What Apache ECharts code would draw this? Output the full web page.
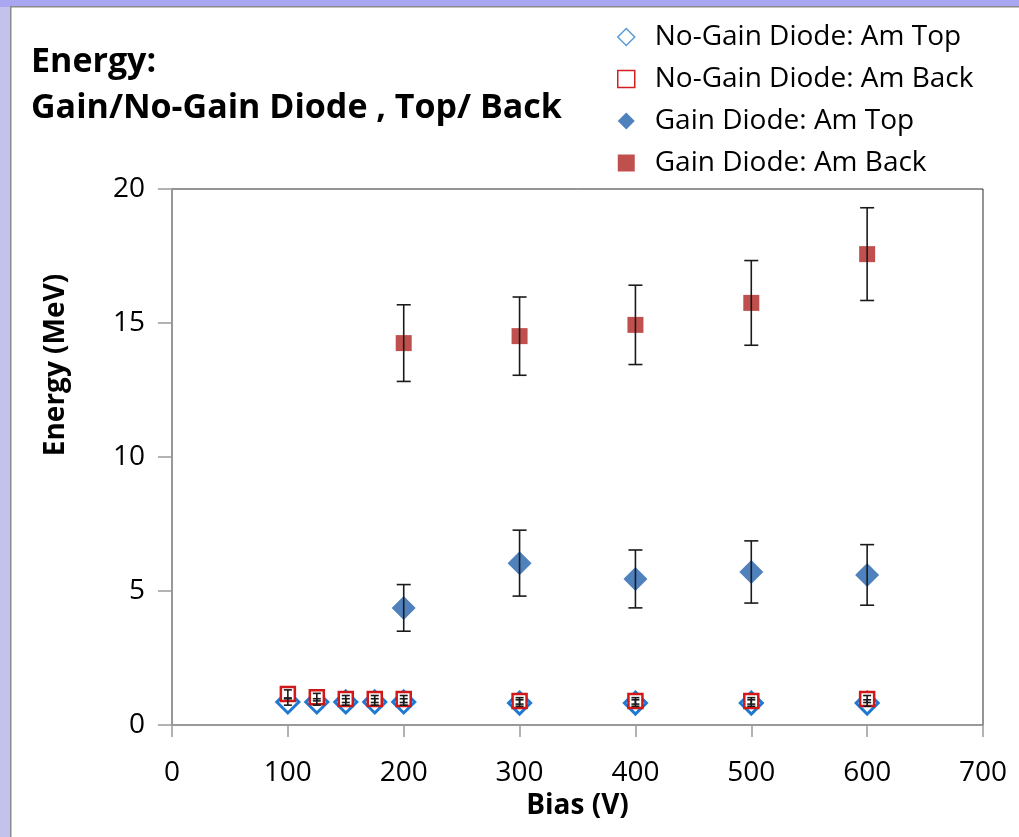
<!DOCTYPE html>
<html>
<head>
<meta charset="utf-8">
<script src="https://cdn.jsdelivr.net/npm/echarts@6/dist/echarts.min.js"></script>
<style>
  html, body { margin: 0; padding: 0; background: #C3C2EC; }
  #chart { width: 1019px; height: 837px; }
</style>
</head>
<body>
<div id="chart"></div>
<script>
// Bias voltages (V)
const biasNoGain = [100, 125, 150, 175, 200, 300, 400, 500, 600];
const biasGain = [200, 300, 400, 500, 600];

// Measured energies (MeV) and their uncertainties
const noGainTop = [0.86, 0.86, 0.86, 0.86, 0.86, 0.82, 0.82, 0.82, 0.82];
const noGainTopErr = [0.12, 0.12, 0.12, 0.12, 0.12, 0.12, 0.12, 0.12, 0.12];
const noGainBack = [1.16, 1.04, 0.97, 0.97, 0.97, 0.9, 0.9, 0.9, 0.97];
const noGainBackErr = [0.15, 0.14, 0.13, 0.13, 0.13, 0.12, 0.12, 0.12, 0.13];
const gainTop = [4.37, 6.04, 5.45, 5.71, 5.6];
const gainTopErr = [0.87, 1.23, 1.08, 1.16, 1.13];
const gainBack = [14.25, 14.51, 14.93, 15.75, 17.57];
const gainBackErr = [1.43, 1.46, 1.48, 1.58, 1.73];

const xTicks = [0, 100, 200, 300, 400, 500, 600, 700];
const yTicks = [0, 5, 10, 15, 20];

const FONT = '"Open Sans", "Noto Sans", sans-serif';

function pairs(xs, ys) { return xs.map((x, i) => [x, ys[i]]); }
function errRows(xs, ys, es) { return xs.map((x, i) => [x, ys[i] - es[i], ys[i] + es[i]]); }

// vertical error bar with short caps at both ends
function errorSeries(rows, cap) {
  return {
    type: 'custom',
    silent: true,
    z: 5,
    data: rows,
    encode: { x: 0, y: [1, 2] },
    renderItem: function (params, api) {
      const x = api.value(0);
      const lo = api.coord([x, api.value(1)]);
      const hi = api.coord([x, api.value(2)]);
      const st = { stroke: '#1a1a1a', lineWidth: 1.6 };
      return {
        type: 'group',
        children: [
          { type: 'line', shape: { x1: lo[0], y1: lo[1], x2: hi[0], y2: hi[1] }, style: st },
          { type: 'line', shape: { x1: lo[0] - cap, y1: lo[1], x2: lo[0] + cap, y2: lo[1] }, style: st },
          { type: 'line', shape: { x1: hi[0] - cap, y1: hi[1], x2: hi[0] + cap, y2: hi[1] }, style: st }
        ]
      };
    }
  };
}

const chart = echarts.init(document.getElementById('chart'), null, { renderer: 'canvas' });

chart.setOption({
  animation: false,
  backgroundColor: '#C3C2EC',
  graphic: [
    { type: 'rect', left: 0, top: 0, shape: { width: 1019, height: 7 }, style: { fill: '#A9A7F1' }, z: -10 },
    { type: 'rect', left: 10, top: 6, shape: { width: 1015, height: 840 }, style: { fill: '#ffffff', stroke: '#8a8a8a', lineWidth: 1.5 }, z: -9 },
    { type: 'text', left: 31, top: 45, style: { text: 'Energy:', font: 'bold 34px ' + FONT, fill: '#000' } },
    { type: 'text', left: 31, top: 91, style: { text: 'Gain/No-Gain Diode , Top/ Back', font: 'bold 34px ' + FONT, fill: '#000' } },
    {
      type: 'text', x: 56, y: 365, rotation: Math.PI / 2,
      style: { text: 'Energy (MeV)', font: 'bold 28px ' + FONT, fill: '#000', align: 'center', verticalAlign: 'middle' }
    }
  ],
  grid: {
    left: 172, right: 36, top: 189, bottom: 112,
    show: true, borderColor: '#2a2a2a', borderWidth: 1, backgroundColor: 'transparent'
  },
  legend: {
    orient: 'vertical',
    left: 612, top: 17,
    itemGap: 12,
    itemWidth: 17, itemHeight: 17,
    textStyle: { fontFamily: FONT, fontSize: 28, lineHeight: 30, color: '#000', padding: [0, 0, 0, 15] },
    data: [
      { name: 'No-Gain Diode: Am Top', icon: 'diamond', itemStyle: { color: '#fff', borderColor: '#5B9BD5', borderWidth: 1.5 } },
      { name: 'No-Gain Diode: Am Back', icon: 'rect', itemStyle: { color: '#fff', borderColor: '#D42020', borderWidth: 1.5 } },
      { name: 'Gain Diode: Am Top', icon: 'diamond' },
      { name: 'Gain Diode: Am Back', icon: 'rect' }
    ]
  },
  xAxis: {
    type: 'value', min: 0, max: 700, interval: 100,
    name: 'Bias (V)', nameLocation: 'middle', nameGap: 63,
    nameTextStyle: { fontFamily: FONT, fontSize: 28, fontWeight: 'bold', color: '#000' },
    axisLine: { show: true, onZero: false, lineStyle: { color: '#9a9a9a', width: 1.5 } },
    axisTick: { show: true, length: 12, lineStyle: { color: '#9a9a9a', width: 1.5 } },
    axisLabel: {
      margin: 34, fontFamily: FONT, fontSize: 28, color: '#000',
      customValues: xTicks
    },
    splitLine: { show: false }
  },
  yAxis: {
    type: 'value', min: 0, max: 20, interval: 5,
    axisLine: { show: true, onZero: false, lineStyle: { color: '#9a9a9a', width: 1.5 } },
    axisTick: { show: true, length: 14, lineStyle: { color: '#9a9a9a', width: 1.5 } },
    axisLabel: {
      margin: 27, fontFamily: FONT, fontSize: 28, color: '#000',
      customValues: yTicks
    },
    splitLine: { show: false }
  },
  series: [
    {
      name: 'No-Gain Diode: Am Top', type: 'scatter', z: 2,
      symbol: 'diamond', symbolSize: [22, 22],
      itemStyle: { color: '#fff', borderColor: '#1f78d1', borderWidth: 3, opacity: 1 },
      data: pairs(biasNoGain, noGainTop)
    },
    {
      name: 'No-Gain Diode: Am Back', type: 'scatter', z: 3,
      symbol: 'rect', symbolSize: [14, 14],
      itemStyle: { color: '#fff', borderColor: '#D01818', borderWidth: 2.5, opacity: 1 },
      data: pairs(biasNoGain, noGainBack)
    },
    {
      name: 'Gain Diode: Am Top', type: 'scatter', z: 2,
      symbol: 'diamond', symbolSize: [24, 24],
      itemStyle: { color: '#4F81BD', opacity: 1 },
      data: pairs(biasGain, gainTop)
    },
    {
      name: 'Gain Diode: Am Back', type: 'scatter', z: 2,
      symbol: 'rect', symbolSize: [16, 16],
      itemStyle: { color: '#C0504D', opacity: 1 },
      data: pairs(biasGain, gainBack)
    },
    errorSeries(errRows(biasGain, gainTop, gainTopErr), 7),
    errorSeries(errRows(biasGain, gainBack, gainBackErr), 7),
    errorSeries(errRows(biasNoGain, noGainTop, noGainTopErr), 4),
    errorSeries(errRows(biasNoGain, noGainBack, noGainBackErr), 4)
  ]
});
</script>
</body>
</html>
